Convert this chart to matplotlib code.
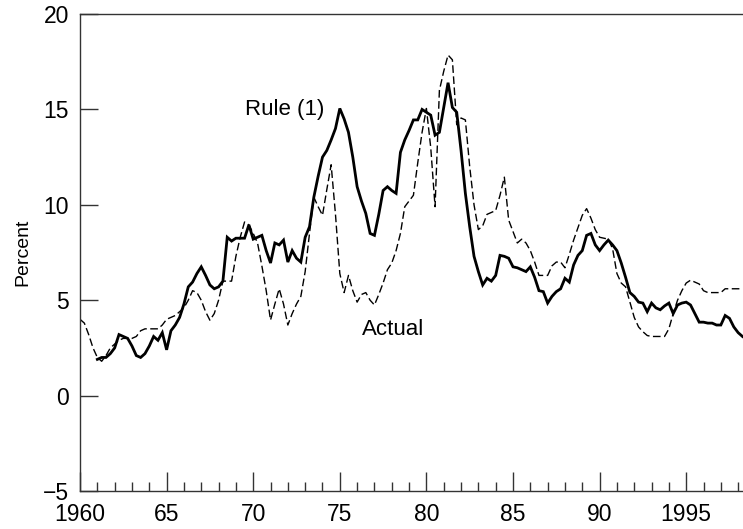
import numpy as np
import matplotlib.pyplot as plt
from matplotlib.ticker import MultipleLocator

plt.rcParams['font.family'] = ['Liberation Sans', 'DejaVu Sans']

# quarterly data, actual starts 1960Q1, rule starts 1961Q1
actual_start = 1960.0
actual = [
    4.0, 3.8, 3.2, 2.5,
    2.0, 1.8, 2.1, 2.5,
    2.7, 2.9, 3.0, 3.0,
    3.0, 3.1, 3.4, 3.5,
    3.5, 3.5, 3.5, 3.7,
    4.0, 4.1, 4.2, 4.4,
    4.6, 5.0, 5.5, 5.4,
    5.0, 4.4, 3.95, 4.3,
    5.0, 6.0, 6.0, 6.0,
    7.3, 8.3, 9.1, 8.95,
    8.5, 8.0, 6.8, 5.5,
    3.96, 4.8, 5.6, 4.8,
    3.7, 4.3, 4.8, 5.2,
    6.5, 8.5, 10.4, 9.9,
    9.45, 10.8, 12.1, 9.5,
    6.4, 5.4, 6.3, 5.5,
    4.9, 5.3, 5.4, 5.0,
    4.75, 5.3, 5.9, 6.6,
    6.95, 7.6, 8.5, 9.9,
    10.2, 10.5, 12.2, 13.8,
    15.05, 13.0, 9.9, 16.0,
    17.0, 17.85, 17.6, 14.2,
    14.55, 14.45, 12.0, 10.0,
    8.7, 8.9, 9.5, 9.6,
    9.7, 10.5, 11.45, 9.2,
    8.6, 8.0, 8.2, 8.0,
    7.6, 7.0, 6.3, 6.3,
    6.3, 6.8, 7.0, 7.0,
    6.7, 7.4, 8.15, 8.8,
    9.45, 9.8, 9.3, 8.7,
    8.3, 8.25, 8.2, 7.7,
    6.4, 5.9, 5.7, 4.9,
    4.1, 3.6, 3.35, 3.15,
    3.1, 3.1, 3.1, 3.1,
    3.5, 4.3, 5.0, 5.5,
    5.9, 6.05, 5.95, 5.85,
    5.5, 5.4, 5.4, 5.4,
    5.4, 5.6, 5.6, 5.6,
    5.6, 5.6,
]

rule_start = 1961.0
rule = [
    1.9, 2.0, 2.0, 2.2,
    2.5, 3.2, 3.1, 3.0,
    2.6, 2.1, 2.0, 2.2,
    2.6, 3.1, 2.9, 3.3,
    2.4, 3.4, 3.7, 4.1,
    4.8, 5.7, 5.95, 6.4,
    6.75, 6.3, 5.8, 5.6,
    5.7, 6.0, 8.3, 8.1,
    8.25, 8.25, 8.25, 8.95,
    8.2, 8.3, 8.4, 7.6,
    6.95, 8.0, 7.9, 8.15,
    7.0, 7.6, 7.2, 7.0,
    8.3, 8.85, 10.4, 11.5,
    12.5, 12.85, 13.4, 14.0,
    15.05, 14.5, 13.8, 12.5,
    10.95, 10.2, 9.55, 8.5,
    8.4, 9.5, 10.75, 10.95,
    10.75, 10.6, 12.75, 13.4,
    13.9, 14.45, 14.45, 15.0,
    14.85, 14.7, 13.65, 13.8,
    15.1, 16.4, 15.1, 14.85,
    12.85, 10.6, 8.85, 7.3,
    6.5, 5.8, 6.15, 6.0,
    6.3, 7.35, 7.3, 7.2,
    6.75, 6.7, 6.6, 6.5,
    6.75, 6.2, 5.5, 5.45,
    4.85, 5.2, 5.45, 5.6,
    6.15, 5.95, 6.85, 7.35,
    7.6, 8.4, 8.5, 7.9,
    7.6, 7.9, 8.15, 7.9,
    7.6, 6.95, 6.2, 5.4,
    5.2, 4.9, 4.85, 4.4,
    4.85, 4.6, 4.5, 4.7,
    4.85, 4.3, 4.75, 4.85,
    4.9, 4.75, 4.3, 3.85,
    3.85, 3.8, 3.8, 3.7,
    3.7, 4.2, 4.05, 3.6,
    3.3, 3.1,
]

xticks = [1960, 1965, 1970, 1975, 1980, 1985, 1990, 1995]
xticklabels = ['1960', '65', '70', '75', '80', '85', '90', '1995']
yticks = [-5, 0, 5, 10, 15, 20]

t_actual = actual_start + np.arange(len(actual)) / 4
t_rule = rule_start + np.arange(len(rule)) / 4

fig = plt.figure(figsize=(7.43, 5.29), dpi=100)
ax = fig.add_axes([0.1077, 0.0718, 0.8923, 0.9017])

ax.plot(t_actual, actual, color='black', lw=1.0, ls=(0, (5.5, 2.5)))
ax.plot(t_rule, rule, color='black', lw=2.0, solid_joinstyle='miter')

ax.set_xlim(1960, 1998.28)
ax.set_ylim(-5, 20)

ax.set_xticks(xticks)
ax.set_xticklabels(xticklabels)
ax.xaxis.set_minor_locator(MultipleLocator(1))
ax.set_yticks(yticks)

spine_col = '#333333'
for s in ['left', 'bottom', 'top']:
    ax.spines[s].set_color(spine_col)
    ax.spines[s].set_linewidth(1.0)
ax.spines['right'].set_visible(False)

ax.tick_params(axis='x', which='major', direction='in', length=14, width=1.0,
               color=spine_col, labelsize=16.5, pad=8.5)
ax.tick_params(axis='x', which='minor', direction='in', length=6.5, width=1.0,
               color=spine_col)
ax.tick_params(axis='y', direction='in', length=13, width=1.0,
               color=spine_col, labelsize=16.5, pad=8)

ax.set_ylabel('Percent', fontsize=14, labelpad=8)

# curve labels
ax.text(1969.5, 14.7, 'Rule (1)', fontsize=16, va='baseline', ha='left')
ax.text(1976.25, 3.18, 'Actual', fontsize=16, va='baseline', ha='left')

fig.savefig('out.png', dpi=100)
